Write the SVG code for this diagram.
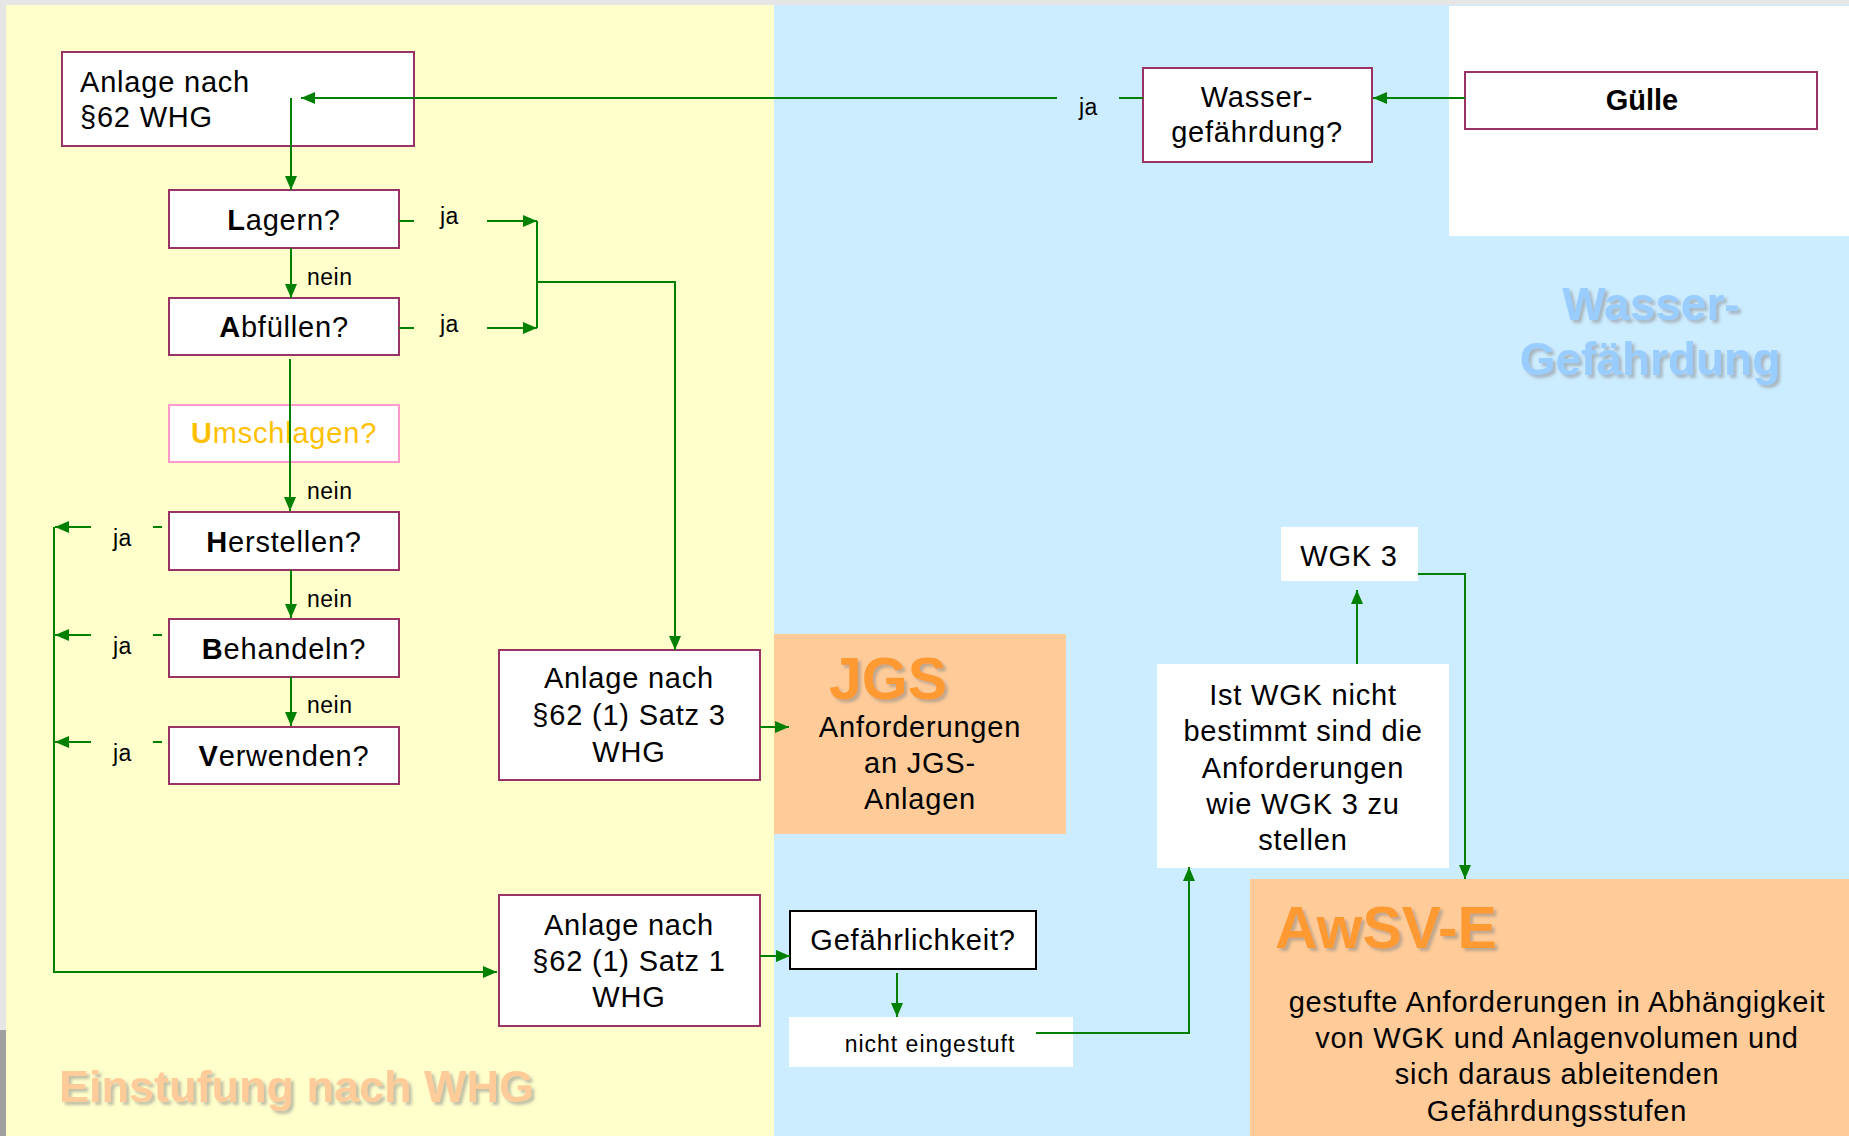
<svg xmlns="http://www.w3.org/2000/svg" width="1849" height="1136" viewBox="0 0 1849 1136">
<style>
text{font-family:"Liberation Sans",Arial,sans-serif;fill:#000}
.t{font-size:29px;letter-spacing:0.8px}
.c{text-anchor:middle}
.lbl{font-size:23px;letter-spacing:0.5px}
.box{fill:#fff;stroke:#993366;stroke-width:2}
.wbox{fill:#fff;stroke:none}
.con{fill:none;stroke:#008000;stroke-width:2}
.arr{marker-end:url(#ah)}
.b{font-weight:bold}
.wm{font-weight:bold;filter:url(#sh)}
</style>
<defs>
<marker id="ah" viewBox="0 0 14 12" refX="14" refY="6" markerWidth="14" markerHeight="12" markerUnits="userSpaceOnUse" orient="auto"><path d="M0,0 L14,6 L0,12 z" fill="#008000"/></marker>
<filter id="sh" x="-10%" y="-20%" width="130%" height="150%"><feDropShadow dx="3" dy="3" stdDeviation="1.5" flood-color="#808080" flood-opacity="0.5"/></filter>
</defs>
<g id="background">
<rect x="0" y="0" width="1849" height="1136" fill="#e6e6e6"/>
<rect x="0" y="1030" width="6" height="106" fill="#a0a0a0"/>
<rect x="6" y="5" width="768" height="1131" fill="#FFFFCC"/>
<rect x="774" y="5" width="1075" height="1131" fill="#CCECFF"/>
<rect x="1449" y="6" width="400" height="230" fill="#fff"/>
<rect id="jgs-bg" x="774" y="634" width="292" height="200" fill="#FFCC99"/>
<rect id="awsv-bg" x="1250" y="879" width="599" height="257" fill="#FFCC99"/>
<text class="wm c" x="1651" y="320" font-size="46" style="fill:#99CCFF">Wasser-</text>
<text class="wm c" x="1650" y="375" font-size="46" style="fill:#99CCFF">Gefährdung</text>
<text class="wm" x="59" y="1102" font-size="45" style="fill:#FFCC99">Einstufung nach WHG</text>
</g>
<g id="nodes">
<g id="anlage62">
<rect class="box" x="62" y="52" width="352" height="94"/>
<text class="t" x="80" y="92">Anlage nach</text>
<text class="t" x="80" y="127">§62 WHG</text>
</g>
<g id="wassergef">
<rect class="box" x="1143" y="68" width="229" height="94"/>
<text class="t c" x="1257" y="107">Wasser-</text>
<text class="t c" x="1257" y="142">gefährdung?</text>
</g>
<g id="guelle">
<rect class="box" x="1465" y="72" width="352" height="57"/>
<text class="c b" x="1642" y="110" font-size="29">Gülle</text>
</g>
<g id="lagern">
<rect class="box" x="169" y="190" width="230" height="58"/>
<text class="t c" x="284" y="230"><tspan class="b">L</tspan>agern?</text>
</g>
<g id="abfuellen">
<rect class="box" x="169" y="298" width="230" height="57"/>
<text class="t c" x="284" y="337"><tspan class="b">A</tspan>bfüllen?</text>
</g>
<g id="umschlagen">
<rect x="169" y="405" width="230" height="57" fill="#fff" stroke="#FF99CC" stroke-width="2"/>
<text class="t c" x="284" y="443" style="fill:#FFC000"><tspan class="b" style="fill:#FFC000">U</tspan>mschlagen?</text>
</g>
<g id="herstellen">
<rect class="box" x="169" y="512" width="230" height="58"/>
<text class="t c" x="284" y="552"><tspan class="b">H</tspan>erstellen?</text>
</g>
<g id="behandeln">
<rect class="box" x="169" y="619" width="230" height="58"/>
<text class="t c" x="284" y="659"><tspan class="b">B</tspan>ehandeln?</text>
</g>
<g id="verwenden">
<rect class="box" x="169" y="727" width="230" height="57"/>
<text class="t c" x="284" y="766"><tspan class="b">V</tspan>erwenden?</text>
</g>
<g id="satz3">
<rect class="box" x="499" y="650" width="261" height="130"/>
<text class="t c" x="629" y="688">Anlage nach</text>
<text class="t c" x="629" y="725">§62 (1) Satz 3</text>
<text class="t c" x="629" y="762">WHG</text>
</g>
<g id="jgs">
<text class="b" x="829" y="699" font-size="59" style="fill:#FF9933;filter:url(#sh)">JGS</text>
<text class="t c" x="920" y="737">Anforderungen</text>
<text class="t c" x="920" y="773">an JGS-</text>
<text class="t c" x="920" y="809">Anlagen</text>
</g>
<g id="satz1">
<rect class="box" x="499" y="895" width="261" height="131"/>
<text class="t c" x="629" y="935">Anlage nach</text>
<text class="t c" x="629" y="971">§62 (1) Satz 1</text>
<text class="t c" x="629" y="1007">WHG</text>
</g>
<g id="gefaehrlichkeit">
<rect x="790" y="911" width="246" height="58" fill="#fff" stroke="#000" stroke-width="2"/>
<text class="t c" x="913" y="950">Gefährlichkeit?</text>
</g>
<g id="nichteingestuft">
<rect class="wbox" x="789" y="1017" width="284" height="50"/>
<text class="c" x="930" y="1052" font-size="23" letter-spacing="1">nicht eingestuft</text>
</g>
<g id="istwgk">
<rect class="wbox" x="1157" y="664" width="292" height="204"/>
<text class="t c" x="1303" y="705">Ist WGK nicht</text>
<text class="t c" x="1303" y="741">bestimmt sind die</text>
<text class="t c" x="1303" y="778">Anforderungen</text>
<text class="t c" x="1303" y="814">wie WGK 3 zu</text>
<text class="t c" x="1303" y="850">stellen</text>
</g>
<g id="wgk3">
<rect class="wbox" x="1281" y="527" width="137" height="54"/>
<text class="t c" x="1349" y="566">WGK 3</text>
</g>
<g id="awsv">
<text class="b" x="1275" y="948" font-size="59" style="fill:#FF9933;filter:url(#sh)">AwSV-E</text>
<text class="t c" x="1557" y="1012">gestufte Anforderungen in Abhängigkeit</text>
<text class="t c" x="1557" y="1048">von WGK und Anlagenvolumen und</text>
<text class="t c" x="1557" y="1084">sich daraus ableitenden</text>
<text class="t c" x="1557" y="1121">Gefährdungsstufen</text>
</g>
</g>
<g id="connectors">
<path class="con arr" d="M1465,98 L1373,98"/>
<path class="con" d="M1143,98 L1119,98"/>
<text class="lbl" x="1079" y="115">ja</text>
<path class="con arr" d="M1057,98 L301,98"/>
<path class="con arr" d="M291,98 L291,190"/>
<path class="con arr" d="M291,248 L291,298"/>
<text class="lbl" x="307" y="285">nein</text>
<path class="con" d="M399,221 L414,221"/>
<text class="lbl" x="440" y="224">ja</text>
<path class="con arr" d="M487,221 L537,221"/>
<path class="con" d="M399,328 L414,328"/>
<text class="lbl" x="440" y="332">ja</text>
<path class="con arr" d="M487,328 L537,328"/>
<path class="con" d="M537,221 L537,328"/>
<path class="con arr" d="M537,282 L675,282 L675,650"/>
<path class="con arr" d="M290,359 L290,511"/>
<text class="lbl" x="307" y="499">nein</text>
<path class="con arr" d="M291,570 L291,618"/>
<text class="lbl" x="307" y="607">nein</text>
<path class="con arr" d="M291,677 L291,726"/>
<text class="lbl" x="307" y="713">nein</text>
<path class="con" d="M162,527 L153,527"/>
<text class="lbl" x="113" y="546">ja</text>
<path class="con arr" d="M91,527 L55,527"/>
<path class="con" d="M162,635 L153,635"/>
<text class="lbl" x="113" y="654">ja</text>
<path class="con arr" d="M91,635 L55,635"/>
<path class="con" d="M162,742 L153,742"/>
<text class="lbl" x="113" y="761">ja</text>
<path class="con arr" d="M91,742 L55,742"/>
<path class="con arr" d="M54,527 L54,972 L497,972"/>
<path class="con arr" d="M760,727 L789,727"/>
<path class="con arr" d="M760,956 L790,956"/>
<path class="con arr" d="M897,973 L897,1017"/>
<path class="con arr" d="M1036,1033 L1189,1033 L1189,867"/>
<path class="con arr" d="M1357,664 L1357,590"/>
<path class="con arr" d="M1418,574 L1465,574 L1465,879"/>
</g>
</svg>
